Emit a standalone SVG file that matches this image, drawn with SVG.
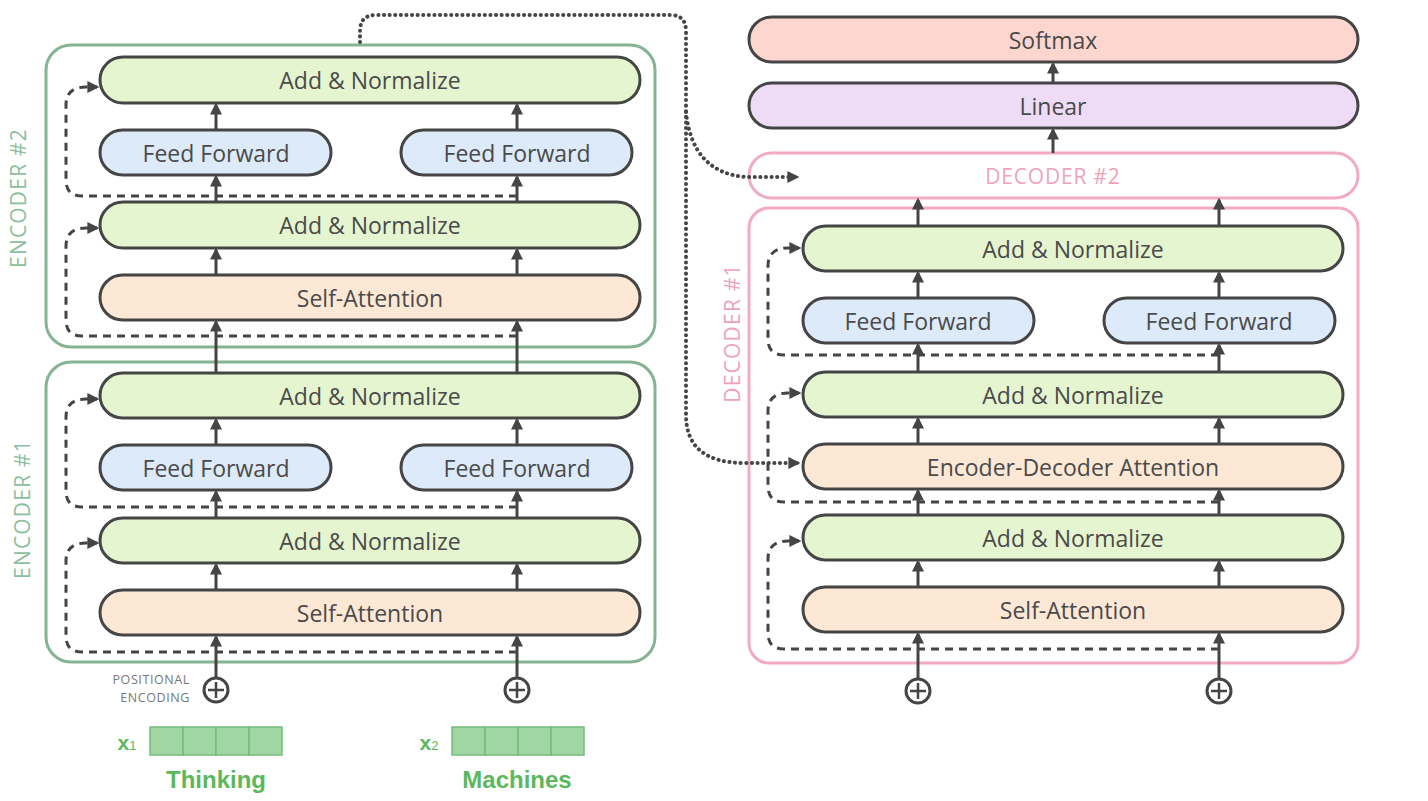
<svg xmlns="http://www.w3.org/2000/svg" width="1428" height="801" viewBox="0 0 1428 801">
<defs>
<marker id="ah" viewBox="0 0 10 10" refX="8" refY="5" markerWidth="12" markerHeight="12" markerUnits="userSpaceOnUse" orient="auto">
<path d="M0,0 L10,5 L0,10 z" fill="#454545"/>
</marker>
<style>
.enc{fill:#fff;stroke:#86b393;stroke-width:3}
.dec{fill:#fff;stroke:#f3abc2;stroke-width:3}
.n{stroke:#454545;stroke-width:3}
.an{fill:#e5f5d0}
.ff{fill:#ddeafa}
.sa{fill:#fde8d6}
.sm{fill:#fdd6cf}
.li{fill:#eedcf6}
.t{font-family:"Open Sans","DejaVu Sans",sans-serif;font-size:23px;fill:#4a4a4a;text-anchor:middle;dominant-baseline:central}
.lbl{font-family:"Open Sans","DejaVu Sans",sans-serif;font-size:21px;text-anchor:middle;dominant-baseline:central;letter-spacing:1.2px}
.ar{stroke:#454545;stroke-width:3;fill:none;marker-end:url(#ah)}
.ds{stroke:#454545;stroke-width:3;fill:none;stroke-dasharray:8 6;marker-end:url(#ah)}
.dt{stroke:#454545;stroke-width:4;fill:none;stroke-dasharray:0.1 5.5;stroke-linecap:round;marker-end:url(#ah)}
.pl{fill:#fff;stroke:#454545;stroke-width:3}
.cell{fill:#9fd6a2;stroke:#77bb7c;stroke-width:1.5}
.w{font-family:"Liberation Sans",Arial,sans-serif;font-weight:bold;fill:#5cb85c;text-anchor:middle}
.pe{font-family:"Open Sans","DejaVu Sans",sans-serif;font-size:12.5px;letter-spacing:0.6px;fill:#777;text-anchor:end}
</style>
</defs>
<rect width="1428" height="801" fill="#fff"/>

<g id="encoder2">
<rect class="enc" x="46" y="45" width="609" height="302" rx="25"/>
<text class="lbl" x="18" y="198" fill="#8dbf9f" transform="rotate(-90 18 198)">ENCODER #2</text>
</g>
<g id="encoder1">
<rect class="enc" x="46" y="362" width="609" height="300" rx="25"/>
<text class="lbl" x="22" y="509" fill="#8dbf9f" transform="rotate(-90 22 509)">ENCODER #1</text>
</g>
<g id="decoder1">
<rect class="dec" x="749" y="208" width="609" height="455" rx="20"/>
<text class="lbl" x="732" y="333" fill="#eea3b9" transform="rotate(-90 732 333)">DECODER #1</text>
</g>
<g id="decoder2"><rect class="dec" x="749" y="153" width="609" height="45" rx="22.5"/><text class="lbl" x="1053" y="175.5" fill="#eea3b9" style="letter-spacing:0.8px">DECODER #2</text></g>

<g id="connectors">
<path class="ar" d="M216,678 V637"/><path class="ar" d="M517,678 V637"/>
<path class="ar" d="M216,590 V565"/><path class="ar" d="M517,590 V565"/>
<path class="ar" d="M216,518 V492"/><path class="ar" d="M517,518 V492"/>
<path class="ar" d="M216,445 V420"/><path class="ar" d="M517,445 V420"/>
<path class="ar" d="M216,373 V322"/><path class="ar" d="M517,373 V322"/>
<path class="ar" d="M216,275 V250"/><path class="ar" d="M517,275 V250"/>
<path class="ar" d="M216,202 V177"/><path class="ar" d="M517,202 V177"/>
<path class="ar" d="M216,130 V105"/><path class="ar" d="M517,130 V105"/>
<path class="ar" d="M918,679 V634"/><path class="ar" d="M1219,679 V634"/>
<path class="ar" d="M918,587 V562"/><path class="ar" d="M1219,587 V562"/>
<path class="ar" d="M918,515 V491"/><path class="ar" d="M1219,515 V491"/>
<path class="ar" d="M918,444 V419"/><path class="ar" d="M1219,444 V419"/>
<path class="ar" d="M918,372 V345"/><path class="ar" d="M1219,372 V345"/>
<path class="ar" d="M918,298 V273"/><path class="ar" d="M1219,298 V273"/>
<path class="ar" d="M918,226 V200"/><path class="ar" d="M1219,226 V200"/>
<path class="ar" d="M1053,153 V130"/>
<path class="ar" d="M1053,83 V64"/>
<path class="ds" d="M517,336 H82 Q66,336 66,320 V246 Q66,228 86,228 H97"/>
<path class="ds" d="M517,196 H82 Q66,196 66,180 V105 Q66,87 86,87 H97"/>
<path class="ds" d="M517,652 H82 Q66,652 66,636 V561 Q66,543 86,543 H97"/>
<path class="ds" d="M517,507 H82 Q66,507 66,491 V417 Q66,399 86,399 H97"/>
<path class="ds" d="M1219,649 H784 Q768,649 768,633 V559 Q768,541 788,541 H799"/>
<path class="ds" d="M1219,502 H784 Q768,502 768,486 V411 Q768,393 788,393 H799"/>
<path class="ds" d="M1219,355 H784 Q768,355 768,339 V266 Q768,248 788,248 H799"/>
<path class="dt" d="M360,42 V31 Q360,15 376,15 H670 Q686,15 686,31 V415 Q686,463 745,463 H798"/>
<path class="dt" d="M686,112 Q692,172 745,177 H797"/>
</g>

<g id="enc2-addnorm-top"><rect class="n an" x="100" y="57" width="540" height="46" rx="23"/><text class="t" x="370" y="80">Add &amp; Normalize</text></g>
<g id="enc2-ff-left"><rect class="n ff" x="100" y="130" width="231" height="45" rx="22.5"/><text class="t" x="216" y="152.5">Feed Forward</text></g>
<g id="enc2-ff-right"><rect class="n ff" x="401" y="130" width="231" height="45" rx="22.5"/><text class="t" x="517" y="152.5">Feed Forward</text></g>
<g id="enc2-addnorm-low"><rect class="n an" x="100" y="202" width="540" height="46" rx="23"/><text class="t" x="370" y="225">Add &amp; Normalize</text></g>
<g id="enc2-selfattn"><rect class="n sa" x="100" y="275" width="540" height="45" rx="22.5"/><text class="t" x="370" y="297.5">Self-Attention</text></g>

<g id="enc1-addnorm-top"><rect class="n an" x="100" y="373" width="540" height="45" rx="22.5"/><text class="t" x="370" y="395.5">Add &amp; Normalize</text></g>
<g id="enc1-ff-left"><rect class="n ff" x="100" y="445" width="231" height="45" rx="22.5"/><text class="t" x="216" y="467.5">Feed Forward</text></g>
<g id="enc1-ff-right"><rect class="n ff" x="401" y="445" width="231" height="45" rx="22.5"/><text class="t" x="517" y="467.5">Feed Forward</text></g>
<g id="enc1-addnorm-low"><rect class="n an" x="100" y="518" width="540" height="45" rx="22.5"/><text class="t" x="370" y="540.5">Add &amp; Normalize</text></g>
<g id="enc1-selfattn"><rect class="n sa" x="100" y="590" width="540" height="45" rx="22.5"/><text class="t" x="370" y="612.5">Self-Attention</text></g>

<g id="softmax"><rect class="n sm" x="749" y="17" width="609" height="45" rx="22.5"/><text class="t" x="1053" y="39.5">Softmax</text></g>
<g id="linear"><rect class="n li" x="749" y="83" width="609" height="45" rx="22.5"/><text class="t" x="1053" y="105.5">Linear</text></g>

<g id="dec-addnorm-top"><rect class="n an" x="803" y="226" width="540" height="45" rx="22.5"/><text class="t" x="1073" y="248.5">Add &amp; Normalize</text></g>
<g id="dec-ff-left"><rect class="n ff" x="803" y="298" width="231" height="45" rx="22.5"/><text class="t" x="918" y="320.5">Feed Forward</text></g>
<g id="dec-ff-right"><rect class="n ff" x="1104" y="298" width="231" height="45" rx="22.5"/><text class="t" x="1219" y="320.5">Feed Forward</text></g>
<g id="dec-addnorm-mid"><rect class="n an" x="803" y="372" width="540" height="45" rx="22.5"/><text class="t" x="1073" y="394.5">Add &amp; Normalize</text></g>
<g id="dec-encdec"><rect class="n sa" x="803" y="444" width="540" height="45" rx="22.5"/><text class="t" x="1073" y="466.5">Encoder-Decoder Attention</text></g>
<g id="dec-addnorm-low"><rect class="n an" x="803" y="515" width="540" height="45" rx="22.5"/><text class="t" x="1073" y="537.5">Add &amp; Normalize</text></g>
<g id="dec-selfattn"><rect class="n sa" x="803" y="587" width="540" height="45" rx="22.5"/><text class="t" x="1073" y="609.5">Self-Attention</text></g>

<g id="pe1"><circle class="pl" cx="216" cy="690" r="12"/><path d="M216,682 V698 M208,690 H224" stroke="#454545" stroke-width="2.5"/>
<text class="pe" x="190" y="684">POSITIONAL</text><text class="pe" x="190" y="702">ENCODING</text></g>
<g id="pe2"><circle class="pl" cx="517" cy="690" r="12"/><path d="M517,682 V698 M509,690 H525" stroke="#454545" stroke-width="2.5"/></g>
<g id="pe3"><circle class="pl" cx="918" cy="691" r="12"/><path d="M918,683 V699 M910,691 H926" stroke="#454545" stroke-width="2.5"/></g>
<g id="pe4"><circle class="pl" cx="1219" cy="691" r="12"/><path d="M1219,683 V699 M1211,691 H1227" stroke="#454545" stroke-width="2.5"/></g>

<g id="input1">
<rect class="cell" x="150" y="727" width="33" height="28"/><rect class="cell" x="183" y="727" width="33" height="28"/><rect class="cell" x="216" y="727" width="33" height="28"/><rect class="cell" x="249" y="727" width="33" height="28"/>
<text class="w" x="127" y="750" font-size="21">x<tspan font-size="13" font-weight="normal">1</tspan></text>
<text class="w" x="216" y="788" font-size="24">Thinking</text>
</g>
<g id="input2">
<rect class="cell" x="452" y="727" width="33" height="28"/><rect class="cell" x="485" y="727" width="33" height="28"/><rect class="cell" x="518" y="727" width="33" height="28"/><rect class="cell" x="551" y="727" width="33" height="28"/>
<text class="w" x="429" y="750" font-size="21">x<tspan font-size="13" font-weight="normal">2</tspan></text>
<text class="w" x="517" y="788" font-size="24">Machines</text>
</g>
</svg>
